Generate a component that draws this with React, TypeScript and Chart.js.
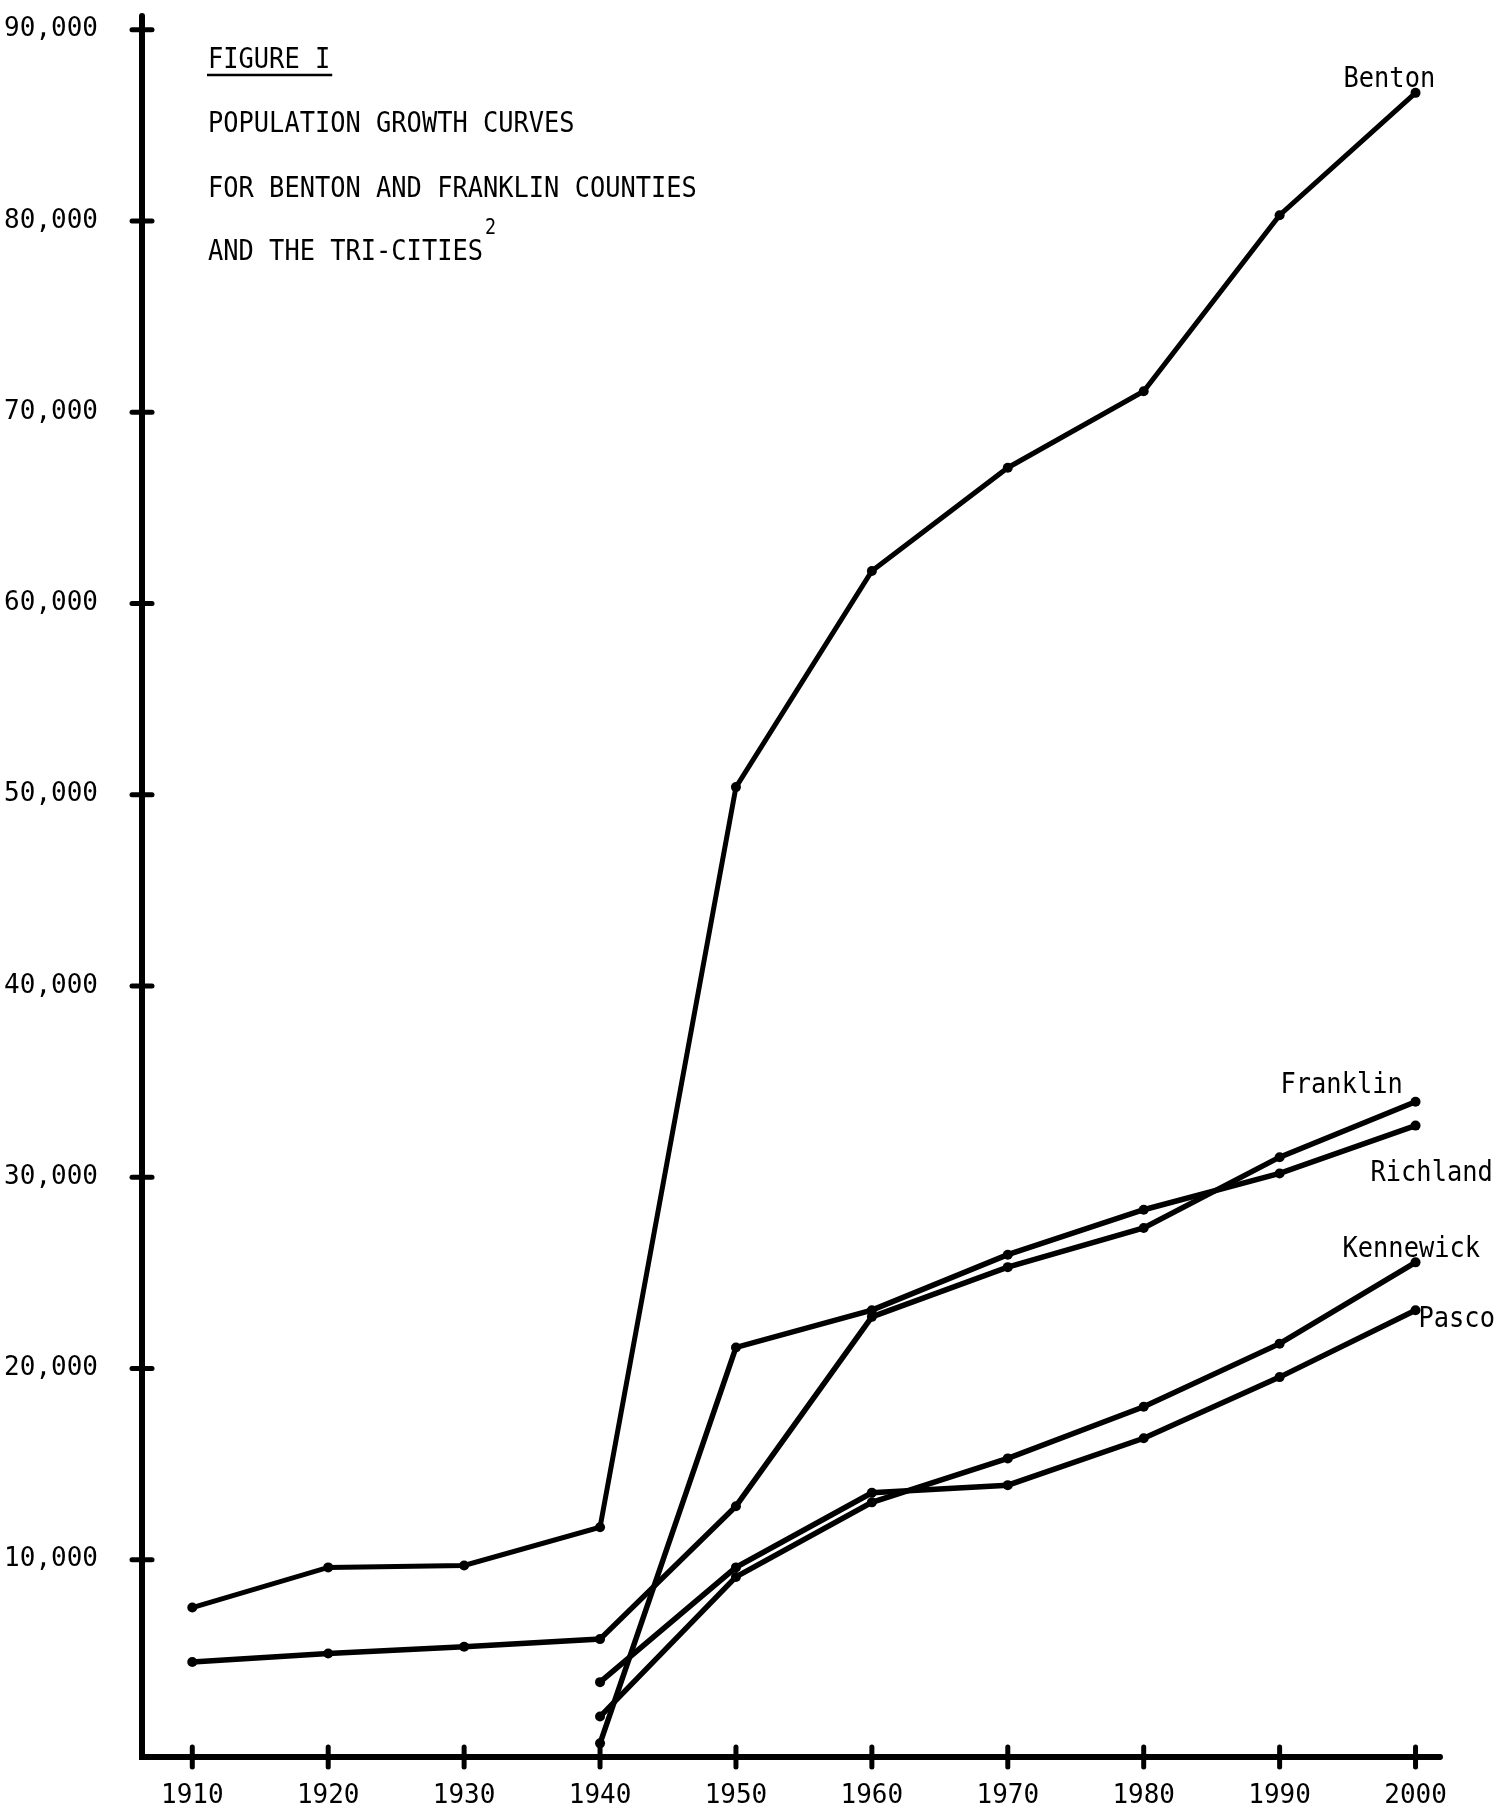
import React, { useEffect, useRef } from 'react';
import { Chart, registerables } from 'chart.js';

Chart.register(...registerables);

// ---- data ----
const countyYears = [1910, 1920, 1930, 1940, 1950, 1960, 1970, 1980, 1990, 2000];
const cityYears = [1940, 1950, 1960, 1970, 1980, 1990, 2000];
const xTickYears = [1910, 1920, 1930, 1940, 1950, 1960, 1970, 1980, 1990, 2000];
const yTickValues = [10000, 20000, 30000, 40000, 50000, 60000, 70000, 80000, 90000];

const benton = [7500, 9600, 9700, 11700, 50400, 61700, 67100, 71100, 80300, 86700];
const franklin = [4650, 5100, 5450, 5850, 12800, 22700, 25300, 27350, 31050, 33950];
const richland = [400, 21100, 23050, 25950, 28300, 30200, 32700];
const kennewick = [1800, 9100, 13000, 15300, 18000, 21300, 25550];
const pasco = [3600, 9600, 13500, 13900, 16350, 19550, 23050];

const seriesNames = ['Benton', 'Franklin', 'Richland', 'Kennewick', 'Pasco'];
const titleLines = ['FIGURE I', 'POPULATION GROWTH CURVES', 'FOR BENTON AND FRANKLIN COUNTIES', 'AND THE TRI-CITIES'];
const titleSuperscript = '2';

// ---- styling ----
const FONT = '"DejaVu Sans Mono", "Liberation Mono", monospace';
const TEXT_SIZE = 29;
const TEXT_SX = 0.875;
// label placement relative to each series' last point (dx, baseline dy)
const labelOffsets: Record<string, [number, number]> = {
  Benton: [-72, -6],
  Franklin: [-135, -9],
  Richland: [-45, 55],
  Kennewick: [-73, -5],
  Pasco: [3, 17],
};

function toPoints(xs: number[], ys: number[]) {
  return xs.map((x, i) => ({ x, y: ys[i] }));
}

function drawScaled(ctx: CanvasRenderingContext2D, text: string, x: number, y: number, size: number) {
  ctx.save();
  ctx.translate(x, y);
  ctx.scale(TEXT_SX, 1);
  ctx.font = `${size}px ${FONT}`;
  ctx.textAlign = 'left';
  ctx.textBaseline = 'alphabetic';
  ctx.fillStyle = '#000';
  ctx.fillText(text, 0, 0);
  ctx.restore();
}

function textWidth(ctx: CanvasRenderingContext2D, text: string, size: number) {
  ctx.font = `${size}px ${FONT}`;
  return ctx.measureText(text).width * TEXT_SX;
}

const decorPlugin = {
  id: 'decor',
  afterDraw(chart: any) {
    const ctx: CanvasRenderingContext2D = chart.ctx;
    const xs = chart.scales.x;
    const ys = chart.scales.y;
    const area = chart.chartArea;
    ctx.save();
    ctx.strokeStyle = '#000';
    ctx.lineCap = 'round';
    ctx.lineWidth = 5;
    // tick crosses on the axes
    yTickValues.forEach((v) => {
      const py = ys.getPixelForValue(v);
      ctx.beginPath();
      ctx.moveTo(area.left - 10, py);
      ctx.lineTo(area.left + 10, py);
      ctx.stroke();
    });
    xTickYears.forEach((v) => {
      const px = xs.getPixelForValue(v);
      ctx.beginPath();
      ctx.moveTo(px, area.bottom - 10);
      ctx.lineTo(px, area.bottom + 10);
      ctx.stroke();
    });
    // axis lines with small overshoot at the ends
    ctx.lineWidth = 6;
    ctx.beginPath();
    ctx.moveTo(area.left, area.top - 8);
    ctx.lineTo(area.left, area.bottom);
    ctx.lineTo(area.right, area.bottom);
    ctx.stroke();

    // title block
    const tx = area.left + 66;
    const baselines = [68, 132, 197, 260];
    titleLines.forEach((t, i) => drawScaled(ctx, t, tx, baselines[i], TEXT_SIZE));
    const w0 = textWidth(ctx, titleLines[0], TEXT_SIZE);
    ctx.lineWidth = 2.5;
    ctx.lineCap = 'butt';
    ctx.beginPath();
    ctx.moveTo(tx - 1, 75);
    ctx.lineTo(tx + w0 + 2, 75);
    ctx.stroke();
    const w3 = textWidth(ctx, titleLines[3], TEXT_SIZE);
    drawScaled(ctx, titleSuperscript, tx + w3 + 2, 234, 21);

    // series labels at the end of each curve
    chart.data.datasets.forEach((ds: any, i: number) => {
      const name = seriesNames[i];
      const last = ds.data[ds.data.length - 1];
      const px = xs.getPixelForValue(last.x);
      const py = ys.getPixelForValue(last.y);
      const [dx, dy] = labelOffsets[name];
      drawScaled(ctx, name, px + dx, py + dy, TEXT_SIZE);
    });
    ctx.restore();
  },
};

export default function App() {
  const canvasRef = useRef<HTMLCanvasElement | null>(null);

  useEffect(() => {
    document.documentElement.style.margin = '0';
    document.body.style.margin = '0';
    document.body.style.overflow = 'hidden';
    document.body.style.background = '#fff';
    const canvas = canvasRef.current;
    if (!canvas) return;

    const lineStyle = (w: number) => ({
      borderColor: '#000',
      backgroundColor: '#000',
      borderWidth: w,
      pointRadius: 5,
      pointBackgroundColor: '#000',
      pointBorderWidth: 0,
      tension: 0,
      fill: false,
    });

    const chart = new Chart(canvas, {
      type: 'line',
      data: {
        datasets: [
          { label: seriesNames[0], data: toPoints(countyYears, benton), ...lineStyle(5) },
          { label: seriesNames[1], data: toPoints(countyYears, franklin), ...lineStyle(5.5) },
          { label: seriesNames[2], data: toPoints(cityYears, richland), ...lineStyle(5.5) },
          { label: seriesNames[3], data: toPoints(cityYears, kennewick), ...lineStyle(5.5) },
          { label: seriesNames[4], data: toPoints(cityYears, pasco), ...lineStyle(5.5) },
        ],
      },
      options: {
        responsive: false,
        animation: false,
        devicePixelRatio: 1,
        layout: { padding: { top: 24, right: 58, bottom: 0, left: 0 } },
        plugins: {
          legend: { display: false },
          tooltip: { enabled: false },
          title: { display: false },
        },
        scales: {
          x: {
            type: 'linear',
            min: 1906.3,
            max: 2001.8,
            afterBuildTicks: (s: any) => {
              s.ticks = xTickYears.map((v) => ({ value: v }));
            },
            afterFit: (s: any) => {
              s.height = 52;
              s.paddingLeft = 0;
              s.paddingRight = 0;
            },
            grid: { display: false, drawTicks: false },
            border: { display: true, color: '#000', width: 6 },
            ticks: {
              color: '#000',
              font: { family: FONT, size: 26 },
              padding: 24,
              maxRotation: 0,
              autoSkip: false,
              callback: (v: any) => String(v),
            },
          },
          y: {
            type: 'linear',
            min: -314,
            max: 90300,
            afterBuildTicks: (s: any) => {
              s.ticks = yTickValues.map((v) => ({ value: v }));
            },
            afterFit: (s: any) => {
              s.width = 142;
              s.paddingTop = 0;
              s.paddingBottom = 0;
            },
            grid: { display: false, drawTicks: false },
            border: { display: true, color: '#000', width: 6 },
            ticks: {
              color: '#000',
              font: { family: FONT, size: 26 },
              padding: 44,
              autoSkip: false,
              callback: (v: any) => Number(v).toLocaleString('en-US'),
            },
          },
        },
      },
      plugins: [decorPlugin],
    } as any);

    return () => chart.destroy();
  }, []);

  return (
    <div style={{ width: 1498, height: 1809, background: '#fff', overflow: 'hidden' }}>
      <canvas ref={canvasRef} width={1498} height={1809} style={{ display: 'block' }} />
    </div>
  );
}
